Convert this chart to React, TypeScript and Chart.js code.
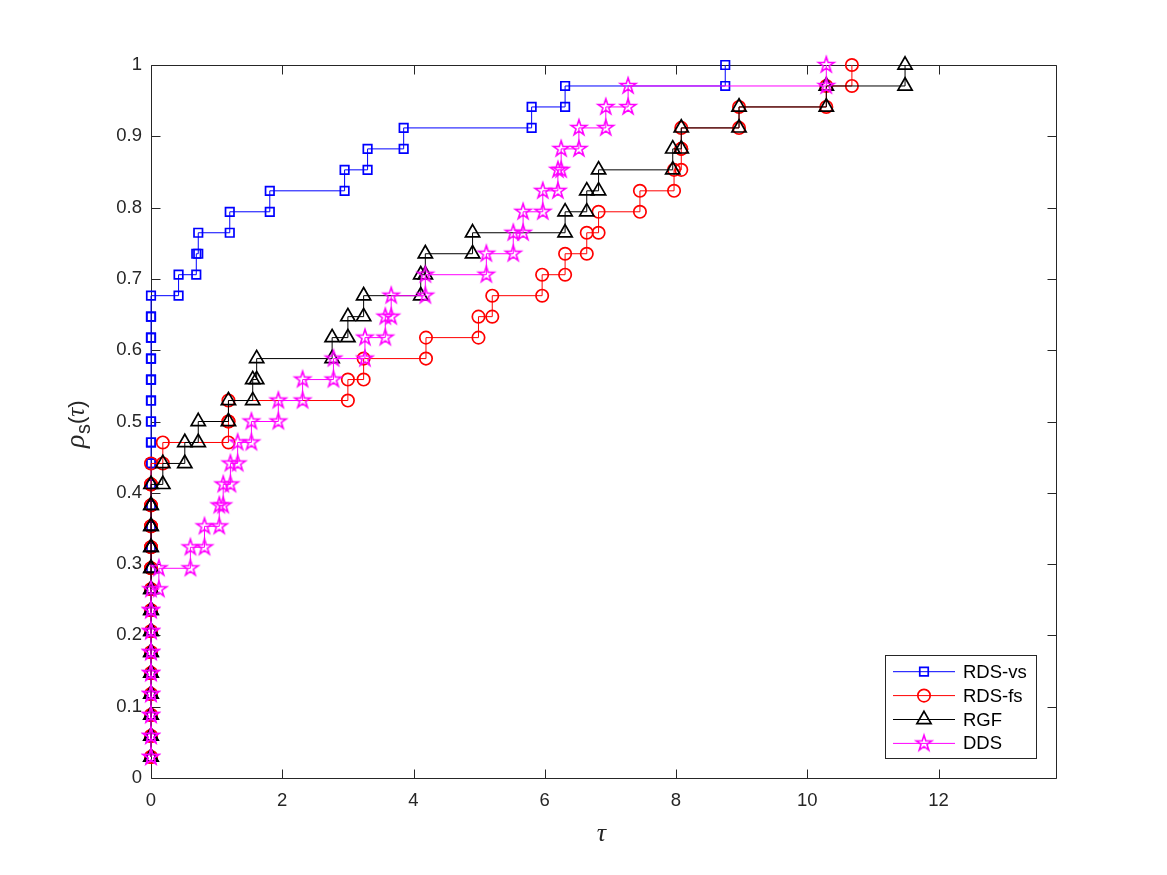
import React, { useEffect, useRef } from 'react';
import { Chart, registerables } from 'chart.js';

Chart.register(...registerables);

// ---- data (sorted performance ratios tau for 34 problems) ----
const N_PROBLEMS = 34;
const seriesNames = ['RDS-vs', 'RDS-fs', 'RGF', 'DDS'];
const seriesColors = ['#0000ff', '#ff0000', '#000000', '#ff00ff'];

const rdsVs = [
  0, 0, 0, 0, 0, 0, 0, 0, 0, 0, 0, 0, 0, 0, 0, 0, 0, 0, 0, 0, 0, 0, 0,
  0.42, 0.69, 0.72, 1.2, 1.81, 2.95, 3.3, 3.85, 5.8, 6.31, 8.75,
];
const rdsFs = [
  0, 0, 0, 0, 0, 0, 0, 0, 0, 0, 0, 0, 0, 0, 0,
  0.18, 1.18, 1.18, 3.0, 3.24, 4.19, 4.99, 5.2, 5.96, 6.31, 6.64, 6.82, 7.45,
  7.97, 8.08, 8.08, 8.96, 10.29, 10.68,
];
const rgf = [
  0, 0, 0, 0, 0, 0, 0, 0, 0, 0, 0, 0, 0, 0,
  0.18, 0.515, 0.72, 1.18, 1.55, 1.61, 2.76, 3.0, 3.24, 4.11, 4.18, 4.9, 6.31,
  6.64, 6.82, 7.95, 8.08, 8.96, 10.29, 11.49,
];
const dds = [
  0, 0, 0, 0, 0, 0, 0, 0, 0,
  0.12, 0.6, 0.815, 1.04, 1.1, 1.21, 1.32, 1.53, 1.94, 2.31, 2.78, 3.26, 3.57,
  3.66, 4.18, 5.11, 5.52, 5.67, 5.97, 6.2, 6.25, 6.52, 6.93, 7.27, 10.29,
];

const xTicks = [0, 2, 4, 6, 8, 10, 12];
const xTickLabels = ['0', '2', '4', '6', '8', '10', '12'];
const yTicks = [0, 0.1, 0.2, 0.3, 0.4, 0.5, 0.6, 0.7, 0.8, 0.9, 1];
const yTickLabels = ['0', '0.1', '0.2', '0.3', '0.4', '0.5', '0.6', '0.7', '0.8', '0.9', '1'];
const X_MIN = 0;
const X_MAX = 13.79;
const Y_MIN = 0;
const Y_MAX = 1;

// MATLAB-style stairs vertices: (x1,y1),(x2,y1),(x2,y2),...
function stairs(vals: number[], n: number) {
  const pts: { x: number; y: number }[] = [];
  vals.forEach((v, i) => {
    if (i > 0) pts.push({ x: v, y: i / n });
    pts.push({ x: v, y: (i + 1) / n });
  });
  return pts;
}

const AXIS_COLOR = '#262626';
const SANS = "'Liberation Sans', Arial, Helvetica, sans-serif";
const SERIF = "'Liberation Serif', 'Times New Roman', serif";
const FONT_SIZE = 18.5;

function makeStar(color: string, R: number, lw: number) {
  const size = Math.ceil(2 * R + lw * 2 + 4);
  const c = document.createElement('canvas');
  c.width = size;
  c.height = size;
  const g = c.getContext('2d')!;
  g.translate(size / 2, size / 2);
  g.beginPath();
  for (let i = 0; i < 10; i++) {
    const r = i % 2 === 0 ? R : R * 0.382;
    const a = -Math.PI / 2 + (i * Math.PI) / 5;
    const px = r * Math.cos(a);
    const py = r * Math.sin(a);
    if (i === 0) g.moveTo(px, py);
    else g.lineTo(px, py);
  }
  g.closePath();
  g.strokeStyle = color;
  g.lineWidth = lw;
  g.stroke();
  return c;
}

function drawMarker(ctx: CanvasRenderingContext2D, style: any, x: number, y: number, r: number) {
  if (typeof style !== 'string') {
    ctx.drawImage(style, x - style.width / 2, y - style.height / 2);
    return;
  }
  ctx.beginPath();
  if (style === 'rect') {
    const s = Math.SQRT1_2 * r;
    ctx.rect(x - s, y - s, 2 * s, 2 * s);
  } else if (style === 'circle') {
    ctx.arc(x, y, r, 0, Math.PI * 2);
  } else if (style === 'triangle') {
    let rad = 0;
    ctx.moveTo(x + Math.sin(rad) * r, y - Math.cos(rad) * r);
    rad += (2 * Math.PI) / 3;
    ctx.lineTo(x + Math.sin(rad) * r, y - Math.cos(rad) * r);
    rad += (2 * Math.PI) / 3;
    ctx.lineTo(x + Math.sin(rad) * r, y - Math.cos(rad) * r);
    ctx.closePath();
  }
  ctx.stroke();
}

export default function App() {
  const canvasRef = useRef<HTMLCanvasElement | null>(null);

  useEffect(() => {
    document.body.style.margin = '0';
    const canvas = canvasRef.current!;
    const star = makeStar('#ff00ff', 8.2, 1.6);
    const styles: any[] = ['rect', 'circle', 'triangle', star];
    const radii = [6, 6.2, 8.2, 8];
    const allSeries = [rdsVs, rdsFs, rgf, dds];

    const datasets = allSeries.map((vals, i) => ({
      label: seriesNames[i],
      data: stairs(vals, N_PROBLEMS),
      showLine: true,
      borderColor: seriesColors[i],
      borderWidth: 1,
      backgroundColor: 'rgba(0,0,0,0)',
      pointStyle: styles[i],
      pointRadius: radii[i],
      pointBorderWidth: 1.7,
      pointBorderColor: seriesColors[i],
      pointBackgroundColor: 'rgba(0,0,0,0)',
      clip: false as any,
      order: 4 - i,
    }));

    const axesPlugin = {
      id: 'matlabAxes',
      beforeDatasetsDraw(chart: any) {
        const { ctx, chartArea } = chart;
        const { left, right, top, bottom } = chartArea;
        const xs = chart.scales.x;
        const ys = chart.scales.y;
        const tl = 9;
        ctx.save();
        ctx.strokeStyle = AXIS_COLOR;
        ctx.lineWidth = 1;
        ctx.beginPath();
        const L = Math.round(left) + 0.5;
        const R = Math.round(right) + 0.5;
        const T = Math.round(top) + 0.5;
        const B = Math.round(bottom) + 0.5;
        ctx.rect(L, T, R - L, B - T);
        xTicks.forEach((v) => {
          const px = Math.round(xs.getPixelForValue(v)) + 0.5;
          ctx.moveTo(px, B);
          ctx.lineTo(px, B - tl);
          ctx.moveTo(px, T);
          ctx.lineTo(px, T + tl);
        });
        yTicks.forEach((v) => {
          const py = Math.round(ys.getPixelForValue(v)) + 0.5;
          ctx.moveTo(L, py);
          ctx.lineTo(L + tl, py);
          ctx.moveTo(R, py);
          ctx.lineTo(R - tl, py);
        });
        ctx.stroke();
        ctx.restore();
      },
    };

    const titlesPlugin = {
      id: 'axisTitles',
      afterDraw(chart: any) {
        const { ctx, chartArea } = chart;
        const { left, right, top, bottom } = chartArea;
        ctx.save();
        ctx.fillStyle = AXIS_COLOR;
        // x title
        ctx.font = `italic 26px ${SERIF}`;
        ctx.textAlign = 'center';
        ctx.textBaseline = 'alphabetic';
        ctx.fillText('τ', (left + right) / 2 - 2, 841);
        // y title: rho_s(tau), rotated
        const cy = (top + bottom) / 2 + 3;
        const baseX = 84;
        ctx.translate(baseX, cy);
        ctx.rotate(-Math.PI / 2);
        ctx.textAlign = 'left';
        ctx.textBaseline = 'alphabetic';
        const parts = [
          { t: 'ρ', f: `italic 28px ${SERIF}`, dy: 0 },
          { t: 's', f: `20px ${SANS}`, dy: 6 },
          { t: '(', f: `22px ${SANS}`, dy: 0 },
          { t: 'τ', f: `italic 25px ${SERIF}`, dy: 0 },
          { t: ')', f: `22px ${SANS}`, dy: 0 },
        ];
        let total = 0;
        const widths = parts.map((p) => {
          ctx.font = p.f;
          const w = ctx.measureText(p.t).width;
          total += w;
          return w;
        });
        let cx = -total / 2;
        parts.forEach((p, i) => {
          ctx.font = p.f;
          ctx.fillText(p.t, cx, p.dy);
          cx += widths[i] + (i === 0 ? 0.5 : 0);
        });
        ctx.restore();
      },
    };

    const legendPlugin = {
      id: 'matlabLegend',
      afterDraw(chart: any) {
        const { ctx, chartArea } = chart;
        const boxR = chartArea.right - 20;
        const boxB = chartArea.bottom - 20;
        const boxW = 151;
        const boxH = 103;
        const boxL = boxR - boxW;
        const boxT = boxB - boxH;
        ctx.save();
        ctx.fillStyle = '#ffffff';
        ctx.fillRect(boxL, boxT, boxW, boxH);
        ctx.strokeStyle = AXIS_COLOR;
        ctx.lineWidth = 1;
        ctx.strokeRect(Math.round(boxL) + 0.5, Math.round(boxT) + 0.5, boxW, boxH);
        const rowH = 23.9;
        seriesNames.forEach((name, i) => {
          const y = boxT + 16.7 + i * rowH;
          ctx.strokeStyle = seriesColors[i];
          ctx.lineWidth = 1;
          ctx.beginPath();
          ctx.moveTo(boxL + 8, y);
          ctx.lineTo(boxL + 70, y);
          ctx.stroke();
          ctx.lineWidth = 1.7;
          drawMarker(ctx, styles[i], boxL + 39, y, radii[i]);
          ctx.fillStyle = '#000000';
          ctx.font = `${FONT_SIZE}px ${SANS}`;
          ctx.textAlign = 'left';
          ctx.textBaseline = 'middle';
          ctx.fillText(name, boxL + 78, y + 1);
        });
        ctx.restore();
      },
    };

    const chart = new Chart(canvas, {
      type: 'scatter',
      data: { datasets: datasets as any },
      options: {
        responsive: false,
        animation: false,
        devicePixelRatio: 1,
        events: [],
        layout: { padding: { top: 65, right: 111, left: 0, bottom: 0 } },
        plugins: {
          legend: { display: false },
          tooltip: { enabled: false },
        },
        scales: {
          x: {
            type: 'linear',
            min: X_MIN,
            max: X_MAX,
            afterBuildTicks: (s: any) => {
              s.ticks = xTicks.map((v) => ({ value: v }));
            },
            afterFit: (s: any) => {
              s.height = 97;
            },
            grid: { display: false, drawTicks: false },
            border: { display: false },
            ticks: {
              padding: 12,
              color: AXIS_COLOR,
              font: { family: SANS, size: FONT_SIZE },
              maxRotation: 0,
              autoSkip: false,
              callback: (_v: any, idx: number) => xTickLabels[idx],
            },
          },
          y: {
            type: 'linear',
            min: Y_MIN,
            max: Y_MAX,
            afterBuildTicks: (s: any) => {
              s.ticks = yTicks.map((v) => ({ value: v }));
            },
            afterFit: (s: any) => {
              s.width = 151;
            },
            grid: { display: false, drawTicks: false },
            border: { display: false },
            ticks: {
              padding: 9,
              color: AXIS_COLOR,
              font: { family: SANS, size: FONT_SIZE },
              autoSkip: false,
              callback: (_v: any, idx: number) => yTickLabels[idx],
            },
          },
        },
      },
      plugins: [axesPlugin, titlesPlugin, legendPlugin],
    });

    return () => {
      chart.destroy();
    };
  }, []);

  return (
    <div style={{ width: 1167, height: 875, background: '#ffffff' }}>
      <canvas ref={canvasRef} width={1167} height={875} style={{ display: 'block' }} />
    </div>
  );
}
